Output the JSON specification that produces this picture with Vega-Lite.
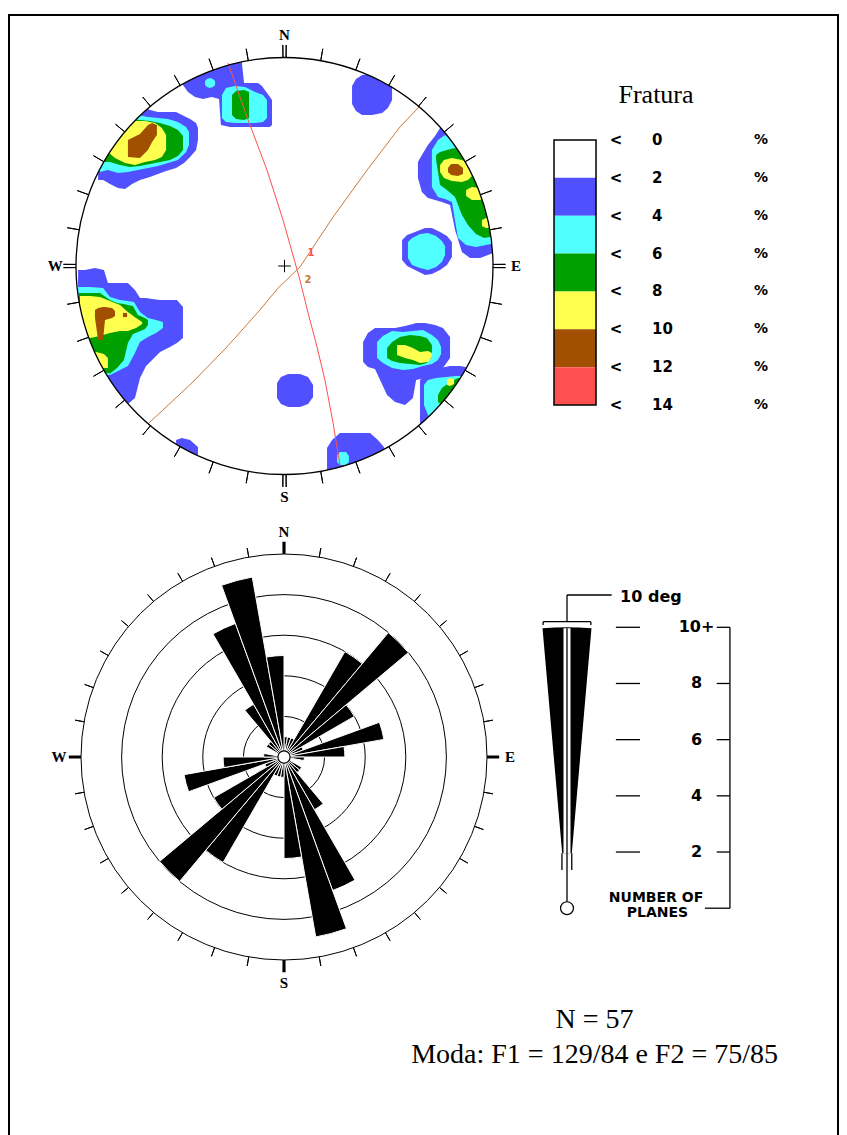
{
"$schema":"https://vega.github.io/schema/vega-lite/v6.json",
"width":847,"height":1135,"padding":0,"autosize":"none","background":"white",
"config":{"view":{"stroke":null},"axis":{"disable":true},"legend":{"disable":true}},
"datasets":{
"ticks":[{"az":10},{"az":20},{"az":30},{"az":40},{"az":50},{"az":60},{"az":70},{"az":80},{"az":100},{"az":110},{"az":120},{"az":130},{"az":140},{"az":150},{"az":160},{"az":170},{"az":190},{"az":200},{"az":210},{"az":220},{"az":230},{"az":240},{"az":250},{"az":260},{"az":280},{"az":290},{"az":300},{"az":310},{"az":320},{"az":330},{"az":340},{"az":350}],
"card":[{"az":0},{"az":90},{"az":180},{"az":270}],
"blobs":[
{"b":"A","lev":2,"x":-0.894,"t":0.556,"d":0.412},{"b":"A","lev":2,"x":-0.87,"t":0.628,"d":0.412},{"b":"A","lev":2,"x":-0.837,"t":0.7,"d":0.393},{"b":"A","lev":2,"x":-0.799,"t":0.758,"d":0.374},{"b":"A","lev":2,"x":-0.765,"t":0.777,"d":0.369},{"b":"A","lev":2,"x":-0.731,"t":0.777,"d":0.393},{"b":"A","lev":2,"x":-0.693,"t":0.772,"d":0.412},{"b":"A","lev":2,"x":-0.645,"t":0.748,"d":0.427},{"b":"A","lev":2,"x":-0.607,"t":0.739,"d":0.441},{"b":"A","lev":2,"x":-0.568,"t":0.739,"d":0.456},{"b":"A","lev":2,"x":-0.52,"t":0.739,"d":0.47},{"b":"A","lev":2,"x":-0.482,"t":0.719,"d":0.494},{"b":"A","lev":2,"x":-0.453,"t":0.705,"d":0.523},{"b":"A","lev":2,"x":-0.424,"t":0.686,"d":0.556},{"b":"A","lev":2,"x":-0.415,"t":0.662,"d":0.604},
{"b":"A","lev":4,"x":-0.885,"t":0.604,"d":0.451},{"b":"A","lev":4,"x":-0.847,"t":0.7,"d":0.46},{"b":"A","lev":4,"x":-0.799,"t":0.739,"d":0.446},{"b":"A","lev":4,"x":-0.751,"t":0.739,"d":0.451},{"b":"A","lev":4,"x":-0.703,"t":0.724,"d":0.46},{"b":"A","lev":4,"x":-0.655,"t":0.715,"d":0.47},{"b":"A","lev":4,"x":-0.607,"t":0.71,"d":0.48},{"b":"A","lev":4,"x":-0.559,"t":0.705,"d":0.494},{"b":"A","lev":4,"x":-0.511,"t":0.691,"d":0.508},{"b":"A","lev":4,"x":-0.472,"t":0.667,"d":0.547},{"b":"A","lev":4,"x":-0.458,"t":0.643,"d":0.58},
{"b":"A","lev":6,"x":-0.87,"t":0.628,"d":0.499},{"b":"A","lev":6,"x":-0.837,"t":0.691,"d":0.499},{"b":"A","lev":6,"x":-0.789,"t":0.705,"d":0.484},{"b":"A","lev":6,"x":-0.741,"t":0.705,"d":0.475},{"b":"A","lev":6,"x":-0.693,"t":0.7,"d":0.48},{"b":"A","lev":6,"x":-0.645,"t":0.695,"d":0.489},{"b":"A","lev":6,"x":-0.597,"t":0.686,"d":0.499},{"b":"A","lev":6,"x":-0.549,"t":0.671,"d":0.508},{"b":"A","lev":6,"x":-0.511,"t":0.652,"d":0.528},{"b":"A","lev":6,"x":-0.487,"t":0.624,"d":0.556},
{"b":"A","lev":8,"x":-0.847,"t":0.643,"d":0.547},{"b":"A","lev":8,"x":-0.813,"t":0.676,"d":0.518},{"b":"A","lev":8,"x":-0.765,"t":0.691,"d":0.494},{"b":"A","lev":8,"x":-0.717,"t":0.695,"d":0.484},{"b":"A","lev":8,"x":-0.669,"t":0.695,"d":0.499},{"b":"A","lev":8,"x":-0.621,"t":0.686,"d":0.508},{"b":"A","lev":8,"x":-0.588,"t":0.662,"d":0.523},{"b":"A","lev":8,"x":-0.568,"t":0.628,"d":0.556},
{"b":"A","lev":10,"x":-0.751,"t":0.604,"d":0.523},{"b":"A","lev":10,"x":-0.693,"t":0.633,"d":0.518},{"b":"A","lev":10,"x":-0.655,"t":0.676,"d":0.556},{"b":"A","lev":10,"x":-0.635,"t":0.686,"d":0.595},{"b":"A","lev":10,"x":-0.612,"t":0.676,"d":0.628},
{"b":"B","lev":2,"x":-0.487,"t":0.892,"d":0.868},{"b":"B","lev":2,"x":-0.463,"t":0.94,"d":0.835},{"b":"B","lev":2,"x":-0.429,"t":0.964,"d":0.811},{"b":"B","lev":2,"x":-0.391,"t":0.978,"d":0.801},{"b":"B","lev":2,"x":-0.348,"t":0.998,"d":0.811},{"b":"B","lev":2,"x":-0.314,"t":1.007,"d":0.801},{"b":"B","lev":2,"x":-0.305,"t":1.007,"d":0.676},{"b":"B","lev":2,"x":-0.261,"t":1.012,"d":0.667},{"b":"B","lev":2,"x":-0.209,"t":1.017,"d":0.667},{"b":"B","lev":2,"x":-0.194,"t":0.878,"d":0.667},{"b":"B","lev":2,"x":-0.127,"t":0.878,"d":0.667},{"b":"B","lev":2,"x":-0.108,"t":0.863,"d":0.667},{"b":"B","lev":2,"x":-0.07,"t":0.811,"d":0.667},{"b":"B","lev":2,"x":-0.06,"t":0.796,"d":0.676},
{"b":"B","lev":4,"x":-0.3,"t":0.82,"d":0.71},{"b":"B","lev":4,"x":-0.281,"t":0.854,"d":0.691},{"b":"B","lev":4,"x":-0.237,"t":0.863,"d":0.686},{"b":"B","lev":4,"x":-0.189,"t":0.859,"d":0.686},{"b":"B","lev":4,"x":-0.141,"t":0.835,"d":0.686},{"b":"B","lev":4,"x":-0.103,"t":0.82,"d":0.691},{"b":"B","lev":4,"x":-0.084,"t":0.796,"d":0.71},
{"b":"B2","lev":4,"x":-0.381,"t":0.887,"d":0.868},{"b":"B2","lev":4,"x":-0.372,"t":0.897,"d":0.859},{"b":"B2","lev":4,"x":-0.357,"t":0.902,"d":0.854},{"b":"B2","lev":4,"x":-0.343,"t":0.897,"d":0.859},{"b":"B2","lev":4,"x":-0.333,"t":0.887,"d":0.868},
{"b":"B","lev":6,"x":-0.252,"t":0.82,"d":0.724},{"b":"B","lev":6,"x":-0.233,"t":0.839,"d":0.705},{"b":"B","lev":6,"x":-0.194,"t":0.844,"d":0.7},{"b":"B","lev":6,"x":-0.17,"t":0.835,"d":0.71},
{"b":"C","lev":2,"x":0.324,"t":0.863,"d":0.777},{"b":"C","lev":2,"x":0.343,"t":0.897,"d":0.743},{"b":"C","lev":2,"x":0.372,"t":0.916,"d":0.724},{"b":"C","lev":2,"x":0.42,"t":0.921,"d":0.724},{"b":"C","lev":2,"x":0.468,"t":0.921,"d":0.734},{"b":"C","lev":2,"x":0.496,"t":0.911,"d":0.758},{"b":"C","lev":2,"x":0.516,"t":0.882,"d":0.796},
{"b":"D","lev":2,"x":0.64,"t":0.499,"d":0.422},{"b":"D","lev":2,"x":0.659,"t":0.532,"d":0.355},{"b":"D","lev":2,"x":0.688,"t":0.58,"d":0.326},{"b":"D","lev":2,"x":0.722,"t":0.624,"d":0.317},{"b":"D","lev":2,"x":0.755,"t":0.676,"d":0.307},{"b":"D","lev":2,"x":0.794,"t":0.676,"d":0.293},{"b":"D","lev":2,"x":0.818,"t":0.62,"d":0.173},{"b":"D","lev":2,"x":0.851,"t":0.56,"d":0.067},{"b":"D","lev":2,"x":0.89,"t":0.5,"d":0.038},{"b":"D","lev":2,"x":0.938,"t":0.4,"d":0.038},{"b":"D","lev":2,"x":0.976,"t":0.3,"d":0.053},{"b":"D","lev":2,"x":1.014,"t":0.2,"d":0.067},
{"b":"D","lev":4,"x":0.707,"t":0.556,"d":0.379},{"b":"D","lev":4,"x":0.736,"t":0.604,"d":0.331},{"b":"D","lev":4,"x":0.77,"t":0.628,"d":0.321},{"b":"D","lev":4,"x":0.803,"t":0.6,"d":0.307},{"b":"D","lev":4,"x":0.832,"t":0.56,"d":0.134},{"b":"D","lev":4,"x":0.871,"t":0.5,"d":0.101},{"b":"D","lev":4,"x":0.918,"t":0.42,"d":0.091},{"b":"D","lev":4,"x":0.966,"t":0.3,"d":0.101},{"b":"D","lev":4,"x":1.014,"t":0.2,"d":0.11},
{"b":"D","lev":6,"x":0.727,"t":0.532,"d":0.508},{"b":"D","lev":6,"x":0.746,"t":0.547,"d":0.388},{"b":"D","lev":6,"x":0.779,"t":0.556,"d":0.365},{"b":"D","lev":6,"x":0.818,"t":0.566,"d":0.331},{"b":"D","lev":6,"x":0.851,"t":0.54,"d":0.245},{"b":"D","lev":6,"x":0.88,"t":0.49,"d":0.197},{"b":"D","lev":6,"x":0.918,"t":0.42,"d":0.153},{"b":"D","lev":6,"x":0.957,"t":0.3,"d":0.134},{"b":"D","lev":6,"x":1.014,"t":0.2,"d":0.144},
{"b":"D","lev":8,"x":0.746,"t":0.484,"d":0.451},{"b":"D","lev":8,"x":0.765,"t":0.508,"d":0.422},{"b":"D","lev":8,"x":0.803,"t":0.518,"d":0.408},{"b":"D","lev":8,"x":0.851,"t":0.508,"d":0.403},{"b":"D","lev":8,"x":0.88,"t":0.494,"d":0.412},{"b":"D","lev":8,"x":0.899,"t":0.47,"d":0.432},
{"b":"D2","lev":8,"x":0.871,"t":0.365,"d":0.336},{"b":"D2","lev":8,"x":0.899,"t":0.379,"d":0.317},{"b":"D2","lev":8,"x":0.938,"t":0.374,"d":0.317},{"b":"D2","lev":8,"x":0.957,"t":0.355,"d":0.326},
{"b":"D3","lev":8,"x":0.947,"t":0.221,"d":0.192},{"b":"D3","lev":8,"x":0.966,"t":0.23,"d":0.182},{"b":"D3","lev":8,"x":0.995,"t":0.23,"d":0.182},
{"b":"D","lev":10,"x":0.784,"t":0.47,"d":0.451},{"b":"D","lev":10,"x":0.799,"t":0.489,"d":0.436},{"b":"D","lev":10,"x":0.832,"t":0.489,"d":0.432},{"b":"D","lev":10,"x":0.856,"t":0.47,"d":0.441},
{"b":"E","lev":2,"x":0.564,"t":0.125,"d":0.029},{"b":"E","lev":2,"x":0.588,"t":0.149,"d":0.0},{"b":"E","lev":2,"x":0.626,"t":0.163,"d":-0.019},{"b":"E","lev":2,"x":0.674,"t":0.182,"d":-0.043},{"b":"E","lev":2,"x":0.707,"t":0.182,"d":-0.038},{"b":"E","lev":2,"x":0.746,"t":0.163,"d":-0.019},{"b":"E","lev":2,"x":0.779,"t":0.144,"d":0.005},{"b":"E","lev":2,"x":0.803,"t":0.115,"d":0.043},
{"b":"E","lev":4,"x":0.592,"t":0.115,"d":0.038},{"b":"E","lev":4,"x":0.612,"t":0.134,"d":0.005},{"b":"E","lev":4,"x":0.65,"t":0.153,"d":-0.01},{"b":"E","lev":4,"x":0.688,"t":0.158,"d":-0.019},{"b":"E","lev":4,"x":0.727,"t":0.144,"d":-0.005},{"b":"E","lev":4,"x":0.755,"t":0.12,"d":0.019},{"b":"E","lev":4,"x":0.77,"t":0.096,"d":0.053},
{"b":"F","lev":2,"x":-0.99,"t":-0.019,"d":-0.307},{"b":"F","lev":2,"x":-0.957,"t":-0.019,"d":-0.451},{"b":"F","lev":2,"x":-0.909,"t":-0.01,"d":-0.537},{"b":"F","lev":2,"x":-0.866,"t":-0.019,"d":-0.595},{"b":"F","lev":2,"x":-0.847,"t":-0.082,"d":-0.619},{"b":"F","lev":2,"x":-0.799,"t":-0.082,"d":-0.643},{"b":"F","lev":2,"x":-0.751,"t":-0.082,"d":-0.662},{"b":"F","lev":2,"x":-0.717,"t":-0.115,"d":-0.633},{"b":"F","lev":2,"x":-0.693,"t":-0.153,"d":-0.537},{"b":"F","lev":2,"x":-0.664,"t":-0.153,"d":-0.48},{"b":"F","lev":2,"x":-0.635,"t":-0.158,"d":-0.451},{"b":"F","lev":2,"x":-0.597,"t":-0.163,"d":-0.412},{"b":"F","lev":2,"x":-0.549,"t":-0.163,"d":-0.388},{"b":"F","lev":2,"x":-0.516,"t":-0.163,"d":-0.369},{"b":"F","lev":2,"x":-0.487,"t":-0.197,"d":-0.345},
{"b":"F","lev":4,"x":-0.99,"t":-0.101,"d":-0.307},{"b":"F","lev":4,"x":-0.933,"t":-0.101,"d":-0.475},{"b":"F","lev":4,"x":-0.87,"t":-0.106,"d":-0.523},{"b":"F","lev":4,"x":-0.837,"t":-0.149,"d":-0.523},{"b":"F","lev":4,"x":-0.789,"t":-0.163,"d":-0.499},{"b":"F","lev":4,"x":-0.751,"t":-0.168,"d":-0.48},{"b":"F","lev":4,"x":-0.722,"t":-0.173,"d":-0.427},{"b":"F","lev":4,"x":-0.693,"t":-0.221,"d":-0.365},{"b":"F","lev":4,"x":-0.655,"t":-0.249,"d":-0.341},{"b":"F","lev":4,"x":-0.616,"t":-0.259,"d":-0.321},{"b":"F","lev":4,"x":-0.583,"t":-0.269,"d":-0.297},
{"b":"F","lev":6,"x":-0.986,"t":-0.129,"d":-0.307},{"b":"F","lev":6,"x":-0.933,"t":-0.129,"d":-0.46},{"b":"F","lev":6,"x":-0.885,"t":-0.129,"d":-0.508},{"b":"F","lev":6,"x":-0.837,"t":-0.163,"d":-0.515},{"b":"F","lev":6,"x":-0.803,"t":-0.177,"d":-0.489},{"b":"F","lev":6,"x":-0.77,"t":-0.182,"d":-0.451},{"b":"F","lev":6,"x":-0.751,"t":-0.187,"d":-0.369},{"b":"F","lev":6,"x":-0.727,"t":-0.192,"d":-0.326},{"b":"F","lev":6,"x":-0.703,"t":-0.235,"d":-0.317},{"b":"F","lev":6,"x":-0.669,"t":-0.249,"d":-0.302},{"b":"F","lev":6,"x":-0.655,"t":-0.259,"d":-0.283},
{"b":"F","lev":8,"x":-0.981,"t":-0.144,"d":-0.331},{"b":"F","lev":8,"x":-0.933,"t":-0.144,"d":-0.345},{"b":"F","lev":8,"x":-0.885,"t":-0.149,"d":-0.336},{"b":"F","lev":8,"x":-0.837,"t":-0.168,"d":-0.321},{"b":"F","lev":8,"x":-0.789,"t":-0.187,"d":-0.312},{"b":"F","lev":8,"x":-0.751,"t":-0.221,"d":-0.312},{"b":"F","lev":8,"x":-0.712,"t":-0.249,"d":-0.297},{"b":"F","lev":8,"x":-0.683,"t":-0.269,"d":-0.278},
{"b":"F2","lev":8,"x":-0.933,"t":-0.412,"d":-0.451},{"b":"F2","lev":8,"x":-0.904,"t":-0.412,"d":-0.48},{"b":"F2","lev":8,"x":-0.866,"t":-0.422,"d":-0.489},{"b":"F2","lev":8,"x":-0.847,"t":-0.441,"d":-0.489},
{"b":"F","lev":10,"x":-0.909,"t":-0.211,"d":-0.249},{"b":"F","lev":10,"x":-0.894,"t":-0.201,"d":-0.355},{"b":"F","lev":10,"x":-0.87,"t":-0.197,"d":-0.355},{"b":"F","lev":10,"x":-0.861,"t":-0.197,"d":-0.259},{"b":"F","lev":10,"x":-0.827,"t":-0.201,"d":-0.249},{"b":"F","lev":10,"x":-0.813,"t":-0.216,"d":-0.24},
{"b":"F4","lev":10,"x":-0.775,"t":-0.225,"d":-0.245},{"b":"F4","lev":10,"x":-0.755,"t":-0.225,"d":-0.245},
{"b":"G","lev":2,"x":0.377,"t":-0.365,"d":-0.46},{"b":"G","lev":2,"x":0.4,"t":-0.321,"d":-0.484},{"b":"G","lev":2,"x":0.434,"t":-0.297,"d":-0.494},{"b":"G","lev":2,"x":0.492,"t":-0.297,"d":-0.619},{"b":"G","lev":2,"x":0.53,"t":-0.297,"d":-0.652},{"b":"G","lev":2,"x":0.578,"t":-0.288,"d":-0.667},{"b":"G","lev":2,"x":0.616,"t":-0.278,"d":-0.633},{"b":"G","lev":2,"x":0.631,"t":-0.273,"d":-0.547},{"b":"G","lev":2,"x":0.674,"t":-0.273,"d":-0.537},{"b":"G","lev":2,"x":0.722,"t":-0.283,"d":-0.513},{"b":"G","lev":2,"x":0.76,"t":-0.297,"d":-0.489},{"b":"G","lev":2,"x":0.794,"t":-0.341,"d":-0.441},
{"b":"G","lev":4,"x":0.444,"t":-0.365,"d":-0.441},{"b":"G","lev":4,"x":0.472,"t":-0.336,"d":-0.465},{"b":"G","lev":4,"x":0.516,"t":-0.312,"d":-0.489},{"b":"G","lev":4,"x":0.568,"t":-0.317,"d":-0.499},{"b":"G","lev":4,"x":0.616,"t":-0.312,"d":-0.494},{"b":"G","lev":4,"x":0.664,"t":-0.307,"d":-0.48},{"b":"G","lev":4,"x":0.707,"t":-0.331,"d":-0.47},{"b":"G","lev":4,"x":0.736,"t":-0.355,"d":-0.451},{"b":"G","lev":4,"x":0.751,"t":-0.388,"d":-0.422},
{"b":"G","lev":6,"x":0.492,"t":-0.393,"d":-0.441},{"b":"G","lev":6,"x":0.516,"t":-0.365,"d":-0.456},{"b":"G","lev":6,"x":0.554,"t":-0.341,"d":-0.465},{"b":"G","lev":6,"x":0.602,"t":-0.331,"d":-0.47},{"b":"G","lev":6,"x":0.65,"t":-0.336,"d":-0.475},{"b":"G","lev":6,"x":0.683,"t":-0.345,"d":-0.465},{"b":"G","lev":6,"x":0.707,"t":-0.379,"d":-0.436},
{"b":"G","lev":8,"x":0.54,"t":-0.379,"d":-0.427},{"b":"G","lev":8,"x":0.578,"t":-0.379,"d":-0.441},{"b":"G","lev":8,"x":0.616,"t":-0.393,"d":-0.451},{"b":"G","lev":8,"x":0.65,"t":-0.412,"d":-0.465},{"b":"G","lev":8,"x":0.688,"t":-0.408,"d":-0.46},{"b":"G","lev":8,"x":0.707,"t":-0.417,"d":-0.436},
{"b":"H","lev":2,"x":0.65,"t":-0.547,"d":-0.763},{"b":"H","lev":2,"x":0.674,"t":-0.523,"d":-0.763},{"b":"H","lev":2,"x":0.707,"t":-0.499,"d":-0.763},{"b":"H","lev":2,"x":0.746,"t":-0.489,"d":-0.763},{"b":"H","lev":2,"x":0.794,"t":-0.48,"d":-0.763},{"b":"H","lev":2,"x":0.842,"t":-0.48,"d":-0.763},{"b":"H","lev":2,"x":0.89,"t":-0.489,"d":-0.643},
{"b":"H","lev":4,"x":0.669,"t":-0.571,"d":-0.667},{"b":"H","lev":4,"x":0.688,"t":-0.547,"d":-0.715},{"b":"H","lev":4,"x":0.727,"t":-0.537,"d":-0.763},{"b":"H","lev":4,"x":0.775,"t":-0.532,"d":-0.763},{"b":"H","lev":4,"x":0.823,"t":-0.528,"d":-0.763},{"b":"H","lev":4,"x":0.871,"t":-0.528,"d":-0.763},
{"b":"H","lev":6,"x":0.736,"t":-0.619,"d":-0.652},{"b":"H","lev":6,"x":0.755,"t":-0.585,"d":-0.667},{"b":"H","lev":6,"x":0.794,"t":-0.556,"d":-0.691},{"b":"H","lev":6,"x":0.832,"t":-0.537,"d":-0.691},{"b":"H","lev":6,"x":0.866,"t":-0.537,"d":-0.691},
{"b":"H","lev":8,"x":0.779,"t":-0.547,"d":-0.571},{"b":"H","lev":8,"x":0.794,"t":-0.537,"d":-0.576},{"b":"H","lev":8,"x":0.813,"t":-0.542,"d":-0.566},
{"b":"I","lev":2,"x":-0.036,"t":-0.561,"d":-0.633},{"b":"I","lev":2,"x":-0.017,"t":-0.532,"d":-0.662},{"b":"I","lev":2,"x":0.017,"t":-0.518,"d":-0.676},{"b":"I","lev":2,"x":0.074,"t":-0.518,"d":-0.676},{"b":"I","lev":2,"x":0.113,"t":-0.532,"d":-0.662},{"b":"I","lev":2,"x":0.137,"t":-0.571,"d":-0.628},
{"b":"J","lev":2,"x":0.204,"t":-0.873,"d":-1.017},{"b":"J","lev":2,"x":0.228,"t":-0.835,"d":-1.017},{"b":"J","lev":2,"x":0.266,"t":-0.801,"d":-1.017},{"b":"J","lev":2,"x":0.338,"t":-0.801,"d":-1.017},{"b":"J","lev":2,"x":0.41,"t":-0.801,"d":-1.017},{"b":"J","lev":2,"x":0.448,"t":-0.835,"d":-1.017},{"b":"J","lev":2,"x":0.477,"t":-0.868,"d":-1.017},
{"b":"J","lev":4,"x":0.252,"t":-0.906,"d":-0.94},{"b":"J","lev":4,"x":0.266,"t":-0.892,"d":-0.954},{"b":"J","lev":4,"x":0.295,"t":-0.892,"d":-0.954},{"b":"J","lev":4,"x":0.309,"t":-0.911,"d":-0.94},
{"b":"K","lev":2,"x":-0.52,"t":-0.835,"d":-0.978},{"b":"K","lev":2,"x":-0.492,"t":-0.825,"d":-0.978},{"b":"K","lev":2,"x":-0.453,"t":-0.835,"d":-0.978},{"b":"K","lev":2,"x":-0.415,"t":-0.868,"d":-0.978}
],
"gc":[
{"f":"1","x":-0.271,"y":0.974},{"f":"1","x":-0.18,"y":0.715},{"f":"1","x":-0.084,"y":0.46},{"f":"1","x":-0.007,"y":0.221},{"f":"1","x":0.074,"y":-0.067},{"f":"1","x":0.113,"y":-0.225},{"f":"1","x":0.156,"y":-0.388},{"f":"1","x":0.194,"y":-0.547},{"f":"1","x":0.233,"y":-0.753},{"f":"1","x":0.266,"y":-0.954},
{"f":"2","x":-0.65,"y":-0.753},{"f":"2","x":-0.439,"y":-0.556},{"f":"2","x":-0.276,"y":-0.388},{"f":"2","x":-0.118,"y":-0.211},{"f":"2","x":-0.031,"y":-0.106},{"f":"2","x":0.074,"y":-0.005},{"f":"2","x":0.233,"y":0.235},{"f":"2","x":0.396,"y":0.46},{"f":"2","x":0.554,"y":0.667},{"f":"2","x":0.645,"y":0.763}
],
"cross":[{"x":-0.03,"x2":0.03,"y":0,"y2":0},{"x":0,"x2":0,"y":-0.03,"y2":0.03}],
"nlab":[{"t":"N","x":0,"y":1.108},{"t":"S","x":0,"y":-1.11},{"t":"E","x":1.11,"y":0},{"t":"W","x":-1.1,"y":0}],
"rose":[
{"a0":0,"a1":10,"n":1},{"a0":10,"a1":20,"n":1},{"a0":20,"a1":30,"n":1},{"a0":30,"a1":40,"n":6},{"a0":40,"a1":50,"n":8},{"a0":50,"a1":60,"n":4},{"a0":60,"a1":70,"n":1},{"a0":70,"a1":80,"n":5},{"a0":80,"a1":90,"n":3},{"a0":90,"a1":100,"n":1},{"a0":120,"a1":130,"n":1},{"a0":130,"a1":140,"n":1},{"a0":140,"a1":150,"n":3},{"a0":150,"a1":160,"n":7},{"a0":160,"a1":170,"n":9},{"a0":170,"a1":180,"n":5},
{"a0":180,"a1":190,"n":1},{"a0":190,"a1":200,"n":1},{"a0":200,"a1":210,"n":1},{"a0":210,"a1":220,"n":6},{"a0":220,"a1":230,"n":8},{"a0":230,"a1":240,"n":4},{"a0":240,"a1":250,"n":1},{"a0":250,"a1":260,"n":5},{"a0":260,"a1":270,"n":3},{"a0":270,"a1":280,"n":1},{"a0":300,"a1":310,"n":1},{"a0":310,"a1":320,"n":1},{"a0":320,"a1":330,"n":3},{"a0":330,"a1":340,"n":7},{"a0":340,"a1":350,"n":9},{"a0":350,"a1":360,"n":5}
],
"rings":[{"n":2},{"n":4},{"n":6},{"n":8},{"n":10}],
"rlabNSEW":[{"t":"N","x":0,"y":11.08},{"t":"S","x":0,"y":-11.13},{"t":"E","x":11.13,"y":0},{"t":"W","x":-11.08,"y":0}],
"kbar":[{"lo":0,"hi":2},{"lo":2,"hi":4},{"lo":4,"hi":6},{"lo":6,"hi":8},{"lo":8,"hi":10},{"lo":10,"hi":12},{"lo":12,"hi":14}],
"klab":[{"v":0,"s":"0"},{"v":2,"s":"2"},{"v":4,"s":"4"},{"v":6,"s":"6"},{"v":8,"s":"8"},{"v":10,"s":"10"},{"v":12,"s":"12"},{"v":14,"s":"14"}],
"rklab":[{"v":2,"s":"2"},{"v":4,"s":"4"},{"v":6,"s":"6"},{"v":8,"s":"8"},{"v":10,"s":"10+"}],
"krules":[
{"x":-0.85,"x2":0.85,"y":10.2,"y2":10.2},{"x":-0.85,"x2":-0.85,"y":10.2,"y2":10.08},{"x":0.85,"x2":0.85,"y":10.2,"y2":10.08},{"x":0,"x2":0,"y":10.2,"y2":11.15},{"x":0,"x2":1.59,"y":11.15,"y2":11.15},
{"x":0,"x2":0,"y":0.23,"y2":9.97},{"x":-0.18,"x2":-0.18,"y":1.36,"y2":1.96},{"x":0.17,"x2":0.17,"y":1.36,"y2":1.96},
{"x":1.74,"x2":2.6,"y":2,"y2":2},{"x":1.74,"x2":2.6,"y":4,"y2":4},{"x":1.74,"x2":2.6,"y":6,"y2":6},{"x":1.74,"x2":2.6,"y":8,"y2":8},{"x":1.74,"x2":2.6,"y":10,"y2":10},
{"x":5.8,"x2":5.8,"y":0,"y2":10},{"x":5.33,"x2":5.8,"y":2,"y2":2},{"x":5.33,"x2":5.8,"y":4,"y2":4},{"x":5.33,"x2":5.8,"y":6,"y2":6},{"x":5.33,"x2":5.8,"y":8,"y2":8},{"x":5.33,"x2":5.8,"y":10,"y2":10},{"x":4.91,"x2":5.8,"y":0,"y2":0}
]
},
"layer":[
{"layer":[
{"data":{"name":"blobs"},"transform":[{"filter":"datum.lev == 2"}],"mark":{"type":"area","orient":"vertical","interpolate":"linear","strokeWidth":0},"encoding":{"x":{"field":"x","type":"quantitative","scale":{"type":"linear","domain":[-1,1],"range":[76,493],"nice":false,"zero":false}},"y":{"field":"t","type":"quantitative","stack":null,"scale":{"type":"linear","domain":[-1,1],"range":[474.5,57.5],"nice":false,"zero":false}},"y2":{"field":"d"},"detail":{"field":"b","type":"nominal"},"color":{"field":"lev","type":"ordinal","scale":{"type":"ordinal","domain":[0,2,4,6,8,10,12],"range":["#FFFFFF","#5050FF","#50FFFF","#00A000","#FFFF50","#A05000","#FF5050"]}}}},
{"data":{"name":"blobs"},"transform":[{"filter":"datum.lev == 4"}],"mark":{"type":"area","orient":"vertical","interpolate":"linear","strokeWidth":0},"encoding":{"x":{"field":"x","type":"quantitative","scale":{"type":"linear","domain":[-1,1],"range":[76,493],"nice":false,"zero":false}},"y":{"field":"t","type":"quantitative","stack":null,"scale":{"type":"linear","domain":[-1,1],"range":[474.5,57.5],"nice":false,"zero":false}},"y2":{"field":"d"},"detail":{"field":"b","type":"nominal"},"color":{"field":"lev","type":"ordinal","scale":{"type":"ordinal","domain":[0,2,4,6,8,10,12],"range":["#FFFFFF","#5050FF","#50FFFF","#00A000","#FFFF50","#A05000","#FF5050"]}}}},
{"data":{"name":"blobs"},"transform":[{"filter":"datum.lev == 6"}],"mark":{"type":"area","orient":"vertical","interpolate":"linear","strokeWidth":0},"encoding":{"x":{"field":"x","type":"quantitative","scale":{"type":"linear","domain":[-1,1],"range":[76,493],"nice":false,"zero":false}},"y":{"field":"t","type":"quantitative","stack":null,"scale":{"type":"linear","domain":[-1,1],"range":[474.5,57.5],"nice":false,"zero":false}},"y2":{"field":"d"},"detail":{"field":"b","type":"nominal"},"color":{"field":"lev","type":"ordinal","scale":{"type":"ordinal","domain":[0,2,4,6,8,10,12],"range":["#FFFFFF","#5050FF","#50FFFF","#00A000","#FFFF50","#A05000","#FF5050"]}}}},
{"data":{"name":"blobs"},"transform":[{"filter":"datum.lev == 8"}],"mark":{"type":"area","orient":"vertical","interpolate":"linear","strokeWidth":0},"encoding":{"x":{"field":"x","type":"quantitative","scale":{"type":"linear","domain":[-1,1],"range":[76,493],"nice":false,"zero":false}},"y":{"field":"t","type":"quantitative","stack":null,"scale":{"type":"linear","domain":[-1,1],"range":[474.5,57.5],"nice":false,"zero":false}},"y2":{"field":"d"},"detail":{"field":"b","type":"nominal"},"color":{"field":"lev","type":"ordinal","scale":{"type":"ordinal","domain":[0,2,4,6,8,10,12],"range":["#FFFFFF","#5050FF","#50FFFF","#00A000","#FFFF50","#A05000","#FF5050"]}}}},
{"data":{"name":"blobs"},"transform":[{"filter":"datum.lev == 10"}],"mark":{"type":"area","orient":"vertical","interpolate":"linear","strokeWidth":0},"encoding":{"x":{"field":"x","type":"quantitative","scale":{"type":"linear","domain":[-1,1],"range":[76,493],"nice":false,"zero":false}},"y":{"field":"t","type":"quantitative","stack":null,"scale":{"type":"linear","domain":[-1,1],"range":[474.5,57.5],"nice":false,"zero":false}},"y2":{"field":"d"},"detail":{"field":"b","type":"nominal"},"color":{"field":"lev","type":"ordinal","scale":{"type":"ordinal","domain":[0,2,4,6,8,10,12],"range":["#FFFFFF","#5050FF","#50FFFF","#00A000","#FFFF50","#A05000","#FF5050"]}}}},
{"data":{"values":[{}]},"mark":{"type":"arc","fill":"white","strokeWidth":0},"encoding":{"x":{"datum":0,"type":"quantitative","scale":{"type":"linear","domain":[-1,1],"range":[76,493],"nice":false,"zero":false}},"y":{"datum":0,"type":"quantitative","scale":{"type":"linear","domain":[-1,1],"range":[474.5,57.5],"nice":false,"zero":false}},"theta":{"datum":0,"type":"quantitative","scale":{"type":"linear","domain":[0,360],"range":[0,6.283185307179586],"nice":false,"zero":false}},"theta2":{"datum":360},"radius":{"datum":1,"type":"quantitative","scale":{"type":"linear","domain":[0,1],"range":[0,208.5],"nice":false,"zero":false}},"radius2":{"datum":1.32}}},
{"data":{"name":"gc"},"transform":[{"filter":"datum.f == '1'"}],"mark":{"type":"line","color":"#FF5050","strokeWidth":1},"encoding":{"x":{"field":"x","type":"quantitative","scale":{"type":"linear","domain":[-1,1],"range":[76,493],"nice":false,"zero":false}},"y":{"field":"y","type":"quantitative","scale":{"type":"linear","domain":[-1,1],"range":[474.5,57.5],"nice":false,"zero":false}}}},
{"data":{"name":"gc"},"transform":[{"filter":"datum.f == '2'"}],"mark":{"type":"line","color":"#C87A3C","strokeWidth":1},"encoding":{"x":{"field":"x","type":"quantitative","scale":{"type":"linear","domain":[-1,1],"range":[76,493],"nice":false,"zero":false}},"y":{"field":"y","type":"quantitative","scale":{"type":"linear","domain":[-1,1],"range":[474.5,57.5],"nice":false,"zero":false}}}},
{"data":{"values":[{}]},"mark":{"type":"arc","filled":false,"color":"black","strokeWidth":1.3},"encoding":{"x":{"datum":0,"type":"quantitative","scale":{"type":"linear","domain":[-1,1],"range":[76,493],"nice":false,"zero":false}},"y":{"datum":0,"type":"quantitative","scale":{"type":"linear","domain":[-1,1],"range":[474.5,57.5],"nice":false,"zero":false}},"theta":{"datum":0,"type":"quantitative","scale":{"type":"linear","domain":[0,360],"range":[0,6.283185307179586],"nice":false,"zero":false}},"theta2":{"datum":360},"radius":{"datum":1,"type":"quantitative","scale":{"type":"linear","domain":[0,1],"range":[0,208.5],"nice":false,"zero":false}},"radius2":{"datum":0}}},
{"data":{"name":"ticks"},"mark":{"type":"arc","filled":false,"color":"black","strokeWidth":1},"encoding":{"x":{"datum":0,"type":"quantitative","scale":{"type":"linear","domain":[-1,1],"range":[76,493],"nice":false,"zero":false}},"y":{"datum":0,"type":"quantitative","scale":{"type":"linear","domain":[-1,1],"range":[474.5,57.5],"nice":false,"zero":false}},"theta":{"field":"az","type":"quantitative","stack":null,"scale":{"type":"linear","domain":[0,360],"range":[0,6.283185307179586],"nice":false,"zero":false}},"theta2":{"field":"az"},"radius":{"datum":1,"type":"quantitative","scale":{"type":"linear","domain":[0,1],"range":[0,208.5],"nice":false,"zero":false}},"radius2":{"datum":1.058}}},
{"data":{"name":"card"},"mark":{"type":"arc","filled":false,"color":"black","strokeWidth":1,"thetaOffset":-0.0075,"theta2Offset":-0.0075},"encoding":{"x":{"datum":0,"type":"quantitative","scale":{"type":"linear","domain":[-1,1],"range":[76,493],"nice":false,"zero":false}},"y":{"datum":0,"type":"quantitative","scale":{"type":"linear","domain":[-1,1],"range":[474.5,57.5],"nice":false,"zero":false}},"theta":{"field":"az","type":"quantitative","stack":null,"scale":{"type":"linear","domain":[0,360],"range":[0,6.283185307179586],"nice":false,"zero":false}},"theta2":{"field":"az"},"radius":{"datum":1,"type":"quantitative","scale":{"type":"linear","domain":[0,1],"range":[0,208.5],"nice":false,"zero":false}},"radius2":{"datum":1.06}}},
{"data":{"name":"card"},"mark":{"type":"arc","filled":false,"color":"black","strokeWidth":1,"thetaOffset":0.0075,"theta2Offset":0.0075},"encoding":{"x":{"datum":0,"type":"quantitative","scale":{"type":"linear","domain":[-1,1],"range":[76,493],"nice":false,"zero":false}},"y":{"datum":0,"type":"quantitative","scale":{"type":"linear","domain":[-1,1],"range":[474.5,57.5],"nice":false,"zero":false}},"theta":{"field":"az","type":"quantitative","stack":null,"scale":{"type":"linear","domain":[0,360],"range":[0,6.283185307179586],"nice":false,"zero":false}},"theta2":{"field":"az"},"radius":{"datum":1,"type":"quantitative","scale":{"type":"linear","domain":[0,1],"range":[0,208.5],"nice":false,"zero":false}},"radius2":{"datum":1.06}}},
{"data":{"name":"cross"},"mark":{"type":"rule","color":"black","strokeWidth":1},"encoding":{"x":{"field":"x","type":"quantitative","scale":{"type":"linear","domain":[-1,1],"range":[76,493],"nice":false,"zero":false}},"x2":{"field":"x2"},"y":{"field":"y","type":"quantitative","scale":{"type":"linear","domain":[-1,1],"range":[474.5,57.5],"nice":false,"zero":false}},"y2":{"field":"y2"}}},
{"data":{"name":"nlab"},"mark":{"type":"text","font":"Liberation Serif","fontWeight":"bold","fontSize":15,"align":"center","baseline":"middle","color":"black"},"encoding":{"x":{"field":"x","type":"quantitative","scale":{"type":"linear","domain":[-1,1],"range":[76,493],"nice":false,"zero":false}},"y":{"field":"y","type":"quantitative","scale":{"type":"linear","domain":[-1,1],"range":[474.5,57.5],"nice":false,"zero":false}},"text":{"field":"t"}}},
{"data":{"values":[{"t":"1","x":0.127,"y":0.062}]},"mark":{"type":"text","font":"DejaVu Sans","fontWeight":"bold","fontSize":10,"align":"center","baseline":"middle","color":"#FF5050"},"encoding":{"x":{"field":"x","type":"quantitative","scale":{"type":"linear","domain":[-1,1],"range":[76,493],"nice":false,"zero":false}},"y":{"field":"y","type":"quantitative","scale":{"type":"linear","domain":[-1,1],"range":[474.5,57.5],"nice":false,"zero":false}},"text":{"field":"t"}}},
{"data":{"values":[{"t":"2","x":0.113,"y":-0.067}]},"mark":{"type":"text","font":"DejaVu Sans","fontWeight":"bold","fontSize":10,"align":"center","baseline":"middle","color":"#C87A3C"},"encoding":{"x":{"field":"x","type":"quantitative","scale":{"type":"linear","domain":[-1,1],"range":[76,493],"nice":false,"zero":false}},"y":{"field":"y","type":"quantitative","scale":{"type":"linear","domain":[-1,1],"range":[474.5,57.5],"nice":false,"zero":false}},"text":{"field":"t"}}}
]},
{"layer":[
{"data":{"name":"kbar"},"mark":{"type":"rect","strokeWidth":0},"encoding":{"x":{"datum":0,"type":"quantitative","scale":{"type":"linear","domain":[0,10],"range":[554,743.3],"nice":false,"zero":false}},"x2":{"datum":2.22},"y":{"field":"lo","type":"quantitative","scale":{"type":"linear","domain":[0,14],"range":[140,405],"nice":false,"zero":false}},"y2":{"field":"hi"},"color":{"field":"lo","type":"ordinal","scale":{"type":"ordinal","domain":[0,2,4,6,8,10,12],"range":["#FFFFFF","#5050FF","#50FFFF","#00A000","#FFFF50","#A05000","#FF5050"]}}}},
{"data":{"values":[{}]},"mark":{"type":"rect","filled":false,"color":"black","strokeWidth":1.5},"encoding":{"x":{"datum":0,"type":"quantitative","scale":{"type":"linear","domain":[0,10],"range":[554,743.3],"nice":false,"zero":false}},"x2":{"datum":2.22},"y":{"datum":0,"type":"quantitative","scale":{"type":"linear","domain":[0,14],"range":[140,405],"nice":false,"zero":false}},"y2":{"datum":14}}},
{"data":{"name":"klab"},"mark":{"type":"text","font":"DejaVu Sans","fontWeight":"bold","fontSize":15,"align":"center","baseline":"middle","color":"black"},"encoding":{"x":{"datum":3.28,"type":"quantitative","scale":{"type":"linear","domain":[0,10],"range":[554,743.3],"nice":false,"zero":false}},"y":{"field":"v","type":"quantitative","scale":{"type":"linear","domain":[0,14],"range":[140,405],"nice":false,"zero":false}},"text":{"value":"<"}}},
{"data":{"name":"klab"},"mark":{"type":"text","font":"DejaVu Sans","fontWeight":"bold","fontSize":15,"align":"left","baseline":"middle","color":"black"},"encoding":{"x":{"datum":5.18,"type":"quantitative","scale":{"type":"linear","domain":[0,10],"range":[554,743.3],"nice":false,"zero":false}},"y":{"field":"v","type":"quantitative","scale":{"type":"linear","domain":[0,14],"range":[140,405],"nice":false,"zero":false}},"text":{"field":"s"}}},
{"data":{"name":"klab"},"mark":{"type":"text","font":"DejaVu Sans","fontWeight":"bold","fontSize":14,"align":"center","baseline":"middle","color":"black"},"encoding":{"x":{"datum":10.94,"type":"quantitative","scale":{"type":"linear","domain":[0,10],"range":[554,743.3],"nice":false,"zero":false}},"y":{"field":"v","type":"quantitative","scale":{"type":"linear","domain":[0,14],"range":[140,405],"nice":false,"zero":false}},"text":{"value":"%"}}},
{"data":{"values":[{}]},"mark":{"type":"text","font":"Liberation Serif","fontSize":26,"align":"center","baseline":"alphabetic","color":"black"},"encoding":{"x":{"datum":5.39,"type":"quantitative","scale":{"type":"linear","domain":[0,10],"range":[554,743.3],"nice":false,"zero":false}},"y":{"datum":-1.95,"type":"quantitative","scale":{"type":"linear","domain":[0,14],"range":[140,405],"nice":false,"zero":false}},"text":{"value":"Fratura"}}}
]},
{"layer":[
{"data":{"name":"rings"},"mark":{"type":"arc","filled":false,"color":"black","strokeWidth":1},"encoding":{"x":{"datum":0,"type":"quantitative","scale":{"type":"linear","domain":[0,10],"range":[284,487],"nice":false,"zero":false}},"y":{"datum":0,"type":"quantitative","scale":{"type":"linear","domain":[0,10],"range":[757,554],"nice":false,"zero":false}},"theta":{"datum":0,"type":"quantitative","scale":{"type":"linear","domain":[0,360],"range":[0,6.283185307179586],"nice":false,"zero":false}},"theta2":{"datum":360},"radius":{"field":"n","type":"quantitative","scale":{"type":"linear","domain":[0,10],"range":[0,203],"nice":false,"zero":false}},"radius2":{"datum":0}}},
{"data":{"name":"rose"},"mark":{"type":"arc","color":"black","stroke":"white","strokeWidth":1},"encoding":{"x":{"datum":0,"type":"quantitative","scale":{"type":"linear","domain":[0,10],"range":[284,487],"nice":false,"zero":false}},"y":{"datum":0,"type":"quantitative","scale":{"type":"linear","domain":[0,10],"range":[757,554],"nice":false,"zero":false}},"theta":{"field":"a0","type":"quantitative","stack":null,"scale":{"type":"linear","domain":[0,360],"range":[0,6.283185307179586],"nice":false,"zero":false}},"theta2":{"field":"a1"},"radius":{"field":"n","type":"quantitative","scale":{"type":"linear","domain":[0,10],"range":[0,203],"nice":false,"zero":false}},"radius2":{"datum":0}}},
{"data":{"name":"ticks"},"mark":{"type":"arc","filled":false,"color":"black","strokeWidth":1},"encoding":{"x":{"datum":0,"type":"quantitative","scale":{"type":"linear","domain":[0,10],"range":[284,487],"nice":false,"zero":false}},"y":{"datum":0,"type":"quantitative","scale":{"type":"linear","domain":[0,10],"range":[757,554],"nice":false,"zero":false}},"theta":{"field":"az","type":"quantitative","stack":null,"scale":{"type":"linear","domain":[0,360],"range":[0,6.283185307179586],"nice":false,"zero":false}},"theta2":{"field":"az"},"radius":{"datum":10,"type":"quantitative","scale":{"type":"linear","domain":[0,10],"range":[0,203],"nice":false,"zero":false}},"radius2":{"datum":10.45}}},
{"data":{"name":"card"},"mark":{"type":"arc","color":"black","thetaOffset":-0.0075,"theta2Offset":0.0075},"encoding":{"x":{"datum":0,"type":"quantitative","scale":{"type":"linear","domain":[0,10],"range":[284,487],"nice":false,"zero":false}},"y":{"datum":0,"type":"quantitative","scale":{"type":"linear","domain":[0,10],"range":[757,554],"nice":false,"zero":false}},"theta":{"field":"az","type":"quantitative","stack":null,"scale":{"type":"linear","domain":[0,360],"range":[0,6.283185307179586],"nice":false,"zero":false}},"theta2":{"field":"az"},"radius":{"datum":10,"type":"quantitative","scale":{"type":"linear","domain":[0,10],"range":[0,203],"nice":false,"zero":false}},"radius2":{"datum":10.6}}},
{"data":{"values":[{}]},"mark":{"type":"arc","fill":"white","stroke":"black","strokeWidth":1.2},"encoding":{"x":{"datum":0,"type":"quantitative","scale":{"type":"linear","domain":[0,10],"range":[284,487],"nice":false,"zero":false}},"y":{"datum":0,"type":"quantitative","scale":{"type":"linear","domain":[0,10],"range":[757,554],"nice":false,"zero":false}},"theta":{"datum":0,"type":"quantitative","scale":{"type":"linear","domain":[0,360],"range":[0,6.283185307179586],"nice":false,"zero":false}},"theta2":{"datum":360},"radius":{"datum":0.3,"type":"quantitative","scale":{"type":"linear","domain":[0,10],"range":[0,203],"nice":false,"zero":false}},"radius2":{"datum":0}}},
{"data":{"name":"rlabNSEW"},"mark":{"type":"text","font":"Liberation Serif","fontWeight":"bold","fontSize":15,"align":"center","baseline":"middle","color":"black"},"encoding":{"x":{"field":"x","type":"quantitative","scale":{"type":"linear","domain":[0,10],"range":[284,487],"nice":false,"zero":false}},"y":{"field":"y","type":"quantitative","scale":{"type":"linear","domain":[0,10],"range":[757,554],"nice":false,"zero":false}},"text":{"field":"t"}}},
{"data":{"values":[{"t":"N = 57","x":15.3,"y":-13.35},{"t":"Moda: F1 = 129/84 e F2 = 75/85","x":15.3,"y":-15.07}]},"mark":{"type":"text","font":"Liberation Serif","fontSize":28,"align":"center","baseline":"alphabetic","color":"black"},"encoding":{"x":{"field":"x","type":"quantitative","scale":{"type":"linear","domain":[0,10],"range":[284,487],"nice":false,"zero":false}},"y":{"field":"y","type":"quantitative","scale":{"type":"linear","domain":[0,10],"range":[757,554],"nice":false,"zero":false}},"text":{"field":"t"}}}
]},
{"layer":[
{"data":{"values":[{}]},"mark":{"type":"arc","color":"black"},"encoding":{"x":{"datum":0,"type":"quantitative","scale":{"type":"linear","domain":[0,10],"range":[567,847.9],"nice":false,"zero":false}},"y":{"datum":0,"type":"quantitative","scale":{"type":"linear","domain":[0,10],"range":[908.2,627.3],"nice":false,"zero":false}},"theta":{"datum":-5,"type":"quantitative","scale":{"type":"linear","domain":[0,360],"range":[0,6.283185307179586],"nice":false,"zero":false}},"theta2":{"datum":5},"radius":{"datum":10,"type":"quantitative","scale":{"type":"linear","domain":[0,10],"range":[0,280.9],"nice":false,"zero":false}},"radius2":{"datum":1.96}}},
{"data":{"values":[{}]},"mark":{"type":"rect","color":"white"},"encoding":{"x":{"datum":-0.125,"type":"quantitative","scale":{"type":"linear","domain":[0,10],"range":[567,847.9],"nice":false,"zero":false}},"x2":{"datum":0.125},"y":{"datum":1.96,"type":"quantitative","scale":{"type":"linear","domain":[0,10],"range":[908.2,627.3],"nice":false,"zero":false}},"y2":{"datum":9.97}}},
{"data":{"name":"krules"},"mark":{"type":"rule","color":"black","strokeWidth":1.3},"encoding":{"x":{"field":"x","type":"quantitative","scale":{"type":"linear","domain":[0,10],"range":[567,847.9],"nice":false,"zero":false}},"x2":{"field":"x2"},"y":{"field":"y","type":"quantitative","scale":{"type":"linear","domain":[0,10],"range":[908.2,627.3],"nice":false,"zero":false}},"y2":{"field":"y2"}}},
{"data":{"values":[{}]},"mark":{"type":"arc","fill":"white","stroke":"black","strokeWidth":1.2},"encoding":{"x":{"datum":0,"type":"quantitative","scale":{"type":"linear","domain":[0,10],"range":[567,847.9],"nice":false,"zero":false}},"y":{"datum":0,"type":"quantitative","scale":{"type":"linear","domain":[0,10],"range":[908.2,627.3],"nice":false,"zero":false}},"theta":{"datum":0,"type":"quantitative","scale":{"type":"linear","domain":[0,360],"range":[0,6.283185307179586],"nice":false,"zero":false}},"theta2":{"datum":360},"radius":{"datum":0.23,"type":"quantitative","scale":{"type":"linear","domain":[0,10],"range":[0,280.9],"nice":false,"zero":false}},"radius2":{"datum":0}}},
{"data":{"name":"rklab"},"mark":{"type":"text","font":"DejaVu Sans","fontWeight":"bold","fontSize":16,"align":"center","baseline":"middle","color":"black"},"encoding":{"x":{"datum":4.61,"type":"quantitative","scale":{"type":"linear","domain":[0,10],"range":[567,847.9],"nice":false,"zero":false}},"y":{"field":"v","type":"quantitative","scale":{"type":"linear","domain":[0,10],"range":[908.2,627.3],"nice":false,"zero":false}},"text":{"field":"s"}}},
{"data":{"values":[{"t":"10 deg","x":1.89,"y":11.07}]},"mark":{"type":"text","font":"DejaVu Sans","fontWeight":"bold","fontSize":16,"align":"left","baseline":"middle","color":"black"},"encoding":{"x":{"field":"x","type":"quantitative","scale":{"type":"linear","domain":[0,10],"range":[567,847.9],"nice":false,"zero":false}},"y":{"field":"y","type":"quantitative","scale":{"type":"linear","domain":[0,10],"range":[908.2,627.3],"nice":false,"zero":false}},"text":{"field":"t"}}},
{"data":{"values":[{"t":"NUMBER OF","x":3.17,"y":0.37},{"t":"PLANES","x":3.22,"y":-0.17}]},"mark":{"type":"text","font":"DejaVu Sans","fontWeight":"bold","fontSize":14,"align":"center","baseline":"middle","color":"black"},"encoding":{"x":{"field":"x","type":"quantitative","scale":{"type":"linear","domain":[0,10],"range":[567,847.9],"nice":false,"zero":false}},"y":{"field":"y","type":"quantitative","scale":{"type":"linear","domain":[0,10],"range":[908.2,627.3],"nice":false,"zero":false}},"text":{"field":"t"}}}
]},
{"data":{"values":[{}]},"mark":{"type":"rect","filled":false,"color":"black","strokeWidth":2},"encoding":{"x":{"datum":0,"type":"quantitative","scale":{"type":"linear","domain":[0,1],"range":[9,838],"nice":false,"zero":false}},"x2":{"datum":1},"y":{"datum":0,"type":"quantitative","scale":{"type":"linear","domain":[0,1],"range":[15,1145],"nice":false,"zero":false}},"y2":{"datum":1}}}
],
"resolve":{"scale":{"x":"independent","y":"independent","theta":"independent","radius":"independent","color":"independent"}}
}
